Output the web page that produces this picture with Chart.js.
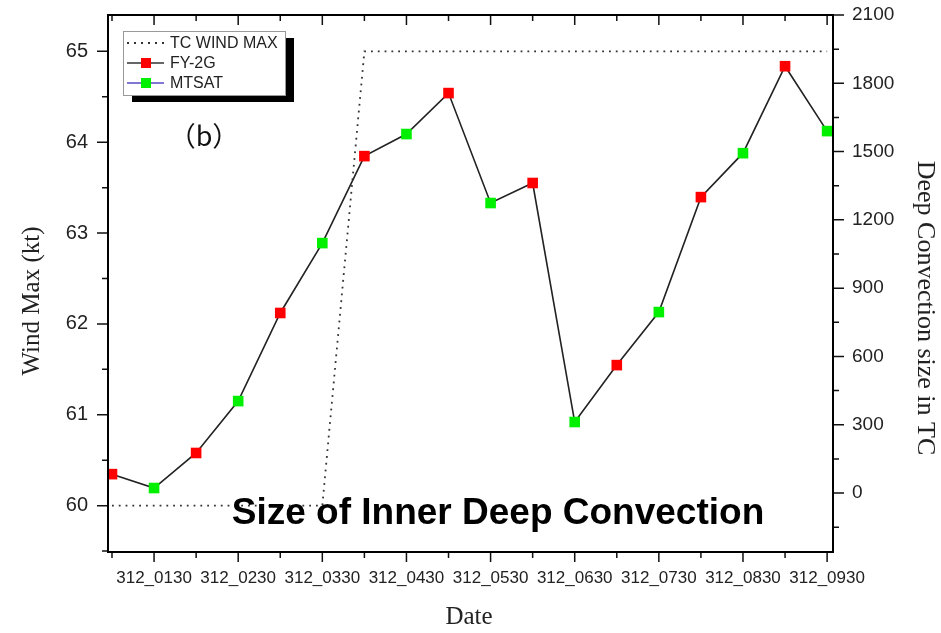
<!DOCTYPE html>
<html>
<head>
<meta charset="utf-8">
<script src="https://cdn.jsdelivr.net/npm/chart.js@4.4.1/dist/chart.umd.min.js"></script>
<style>
  html, body { margin: 0; padding: 0; background: #fff; }
  #wrap { width: 941px; height: 633px; }
</style>
</head>
<body>
<div id="wrap"><canvas id="chart" width="941" height="633"></canvas></div>
<script>
// half-hourly samples, day 312
const timeLabels = ['312_0100', '312_0130', '312_0200', '312_0230', '312_0300', '312_0330',
                    '312_0400', '312_0430', '312_0500', '312_0530', '312_0600', '312_0630',
                    '312_0700', '312_0730', '312_0800', '312_0830', '312_0900', '312_0930'];
// TC wind max (kt) - left axis
const windMax = [60, 60, 60, 60, 60, 60, 65, 65, 65, 65, 65, 65, 65, 65, 65, 65, 65, 65];
// inner deep convection size - right axis
const convectionSize = [83, 22, 176, 404, 791, 1098, 1480, 1577, 1757, 1274, 1362, 312,
                        562, 795, 1300, 1493, 1875, 1590];
// satellite for each sample
const satellite = ['FY-2G', 'MTSAT', 'FY-2G', 'MTSAT', 'FY-2G', 'MTSAT', 'FY-2G', 'MTSAT', 'FY-2G',
                   'MTSAT', 'FY-2G', 'MTSAT', 'FY-2G', 'MTSAT', 'FY-2G', 'MTSAT', 'FY-2G', 'MTSAT'];
const windTicks = [60, 61, 62, 63, 64, 65];
const convTicks = [0, 300, 600, 900, 1200, 1500, 1800, 2100];

const satColors = { 'FY-2G': '#ff0000', 'MTSAT': '#00f000' };
const SANS = '"Liberation Sans", Arial, sans-serif';
const SERIF = '"Liberation Serif", "Times New Roman", serif';

// fixed axis boxes so the plot area lands where the original has it
function fixBox(size) {
    return s => {
        if (s.isHorizontal()) s.height = size; else s.width = size;
        s.paddingTop = 0; s.paddingBottom = 0;
        s.paddingLeft = 0; s.paddingRight = 0;
    };
}

// frame, minor ticks, legend box and text labels
const decorations = {
    id: 'decorations',
    afterDraw(chart) {
        const { ctx, chartArea: a, scales } = chart;
        const x = scales.x, yw = scales.yWind, yc = scales.yConv;
        ctx.save();

        // tick marks
        ctx.strokeStyle = '#111';
        ctx.lineWidth = 1.5;
        ctx.beginPath();
        timeLabels.forEach((_, i) => {
            const px = x.getPixelForValue(i);
            const len = i % 2 ? 10 : 6;
            ctx.moveTo(px, a.bottom); ctx.lineTo(px, a.bottom + len);
            ctx.moveTo(px, a.top); ctx.lineTo(px, a.top + len);
        });
        for (let v = 59.5; v <= 65; v += 0.5) {
            if (v < yw.min) continue;
            const py = yw.getPixelForValue(v);
            ctx.moveTo(a.left, py); ctx.lineTo(a.left - (v % 1 ? 6 : 11), py);
        }
        for (let v = -150; v <= 2100; v += 150) {
            const py = yc.getPixelForValue(v);
            ctx.moveTo(a.right, py); ctx.lineTo(a.right + (v % 300 ? 6 : 11), py);
        }
        ctx.stroke();

        // frame
        ctx.lineWidth = 2;
        ctx.strokeStyle = '#000';
        ctx.strokeRect(a.left, a.top, a.right - a.left, a.bottom - a.top);

        // legend
        const lx = a.left + 15, ly = a.top + 16, lw = 162, lh = 64;
        ctx.fillStyle = '#000';
        ctx.fillRect(lx + 9, ly + 7, lw, lh);
        ctx.fillStyle = '#fff';
        ctx.fillRect(lx, ly, lw, lh);
        ctx.lineWidth = 1;
        ctx.strokeStyle = '#999';
        ctx.strokeRect(lx + 0.5, ly + 0.5, lw, lh);

        const entries = [
            { text: 'TC WIND MAX', line: '#333', dash: [2, 5], marker: null },
            { text: 'FY-2G', line: '#333', dash: [], marker: satColors['FY-2G'] },
            { text: 'MTSAT', line: '#5548c8', dash: [], marker: satColors['MTSAT'] }
        ];
        ctx.font = '16px ' + SANS;
        ctx.textBaseline = 'middle';
        ctx.textAlign = 'left';
        entries.forEach((e, i) => {
            const cy = ly + 12 + i * 20;
            ctx.strokeStyle = e.line;
            ctx.lineWidth = e.dash.length ? 2 : 1.5;
            ctx.setLineDash(e.dash);
            ctx.beginPath();
            ctx.moveTo(lx + 4, cy); ctx.lineTo(lx + 41, cy);
            ctx.stroke();
            ctx.setLineDash([]);
            if (e.marker) {
                ctx.fillStyle = e.marker;
                ctx.fillRect(lx + 18, cy - 5, 10, 10);
            }
            ctx.fillStyle = '#222';
            ctx.fillText(e.text, lx + 47, cy + 1);
        });

        // panel tag
        ctx.fillStyle = '#111';
        ctx.textAlign = 'center';
        ctx.font = '27px "Noto Sans CJK SC", sans-serif';
        ctx.fillText('（b）', 204, 136);

        // inner title
        ctx.font = 'bold 37px ' + SANS;
        ctx.textBaseline = 'alphabetic';
        ctx.fillStyle = '#000';
        ctx.fillText('Size of Inner Deep Convection', 498, 524);

        // axis titles
        ctx.fillStyle = '#222';
        ctx.textBaseline = 'middle';
        ctx.font = '25px ' + SERIF;
        ctx.fillText('Date', 469, 617);
        ctx.save();
        ctx.translate(32, 301);
        ctx.rotate(-Math.PI / 2);
        ctx.fillText('Wind Max (kt)', 0, 0);
        ctx.restore();
        ctx.save();
        ctx.translate(925, 308);
        ctx.rotate(Math.PI / 2);
        ctx.font = '26px ' + SERIF;
        ctx.fillText('Deep Convection size in TC', 0, 0);
        ctx.restore();

        ctx.restore();
    }
};

new Chart(document.getElementById('chart'), {
    type: 'line',
    data: {
        datasets: [
            {
                label: 'TC WIND MAX',
                data: windMax.map((v, i) => ({ x: i, y: v })),
                yAxisID: 'yWind',
                borderColor: '#333',
                borderWidth: 1.8,
                borderDash: [1.8, 5],
                pointRadius: 0,
                tension: 0
            },
            {
                label: 'Deep Convection',
                data: convectionSize.map((v, i) => ({ x: i, y: v })),
                yAxisID: 'yConv',
                borderColor: '#222',
                borderWidth: 1.6,
                pointStyle: 'rect',
                pointRadius: 7.5,
                pointHoverRadius: 7.5,
                pointBorderWidth: 0,
                pointBackgroundColor: satellite.map(s => satColors[s]),
                tension: 0
            }
        ]
    },
    options: {
        responsive: false,
        animation: false,
        devicePixelRatio: 1,
        layout: { padding: { top: 15, left: 0, right: 0, bottom: 0 } },
        plugins: {
            legend: { display: false },
            tooltip: { enabled: false }
        },
        scales: {
            x: {
                type: 'linear',
                position: 'bottom',
                min: -0.095,
                max: 17.14,
                afterBuildTicks: s => { s.ticks = timeLabels.map((_, i) => ({ value: i })); },
                afterFit: fixBox(81),
                grid: { display: false, drawTicks: true, tickLength: 10 },
                border: { display: false },
                ticks: {
                    autoSkip: false,
                    maxRotation: 0,
                    padding: 6,
                    color: '#222',
                    font: { family: SANS, size: 17 },
                    callback: v => (v % 2 === 1 ? timeLabels[v] : '')
                }
            },
            yWind: {
                position: 'left',
                min: 59.49,
                max: 65.4,
                afterBuildTicks: s => { s.ticks = windTicks.map(v => ({ value: v })); },
                afterFit: fixBox(108),
                grid: { display: false, drawTicks: true, tickLength: 11 },
                border: { display: false },
                ticks: { padding: 9, color: '#222', font: { family: SANS, size: 20 }, callback: v => String(v) }
            },
            yConv: {
                position: 'right',
                min: -259,
                max: 2100,
                afterBuildTicks: s => { s.ticks = convTicks.map(v => ({ value: v })); },
                afterFit: fixBox(108),
                grid: { display: false, drawTicks: true, tickLength: 11 },
                border: { display: false },
                ticks: { padding: 8, color: '#222', font: { family: SANS, size: 19 }, callback: v => String(v) }
            }
        }
    },
    plugins: [decorations]
});
</script>
</body>
</html>
